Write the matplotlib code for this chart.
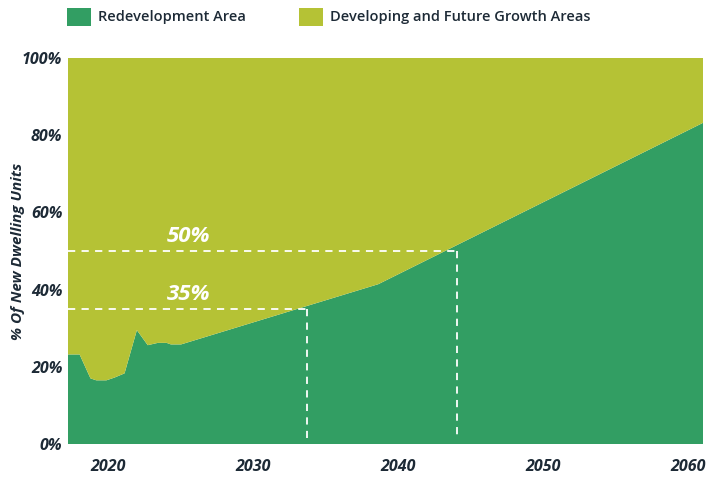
import numpy as np
import matplotlib.pyplot as plt
from matplotlib.patches import Rectangle

# share of new dwelling units in redevelopment areas (%)
years = [2017.2, 2018.0, 2018.75, 2019.15, 2019.85, 2020.4, 2021.1, 2021.95,
         2022.7, 2023.4, 2024.0, 2024.3, 2025.0, 2038.6, 2061.0]
redevelopment = [23.2, 23.2, 17.0, 16.5, 16.5, 17.2, 18.3, 29.5,
                 25.6, 26.2, 26.2, 25.8, 25.8, 41.4, 83.2]
developing = [100 - v for v in redevelopment]

# target years for the 35% and 50% thresholds
target_years = [2033.7, 2044.0]
target_values = [35, 50]

series_names = ["Redevelopment Area", "Developing and Future Growth Areas"]
x_ticks = [2020, 2030, 2040, 2050, 2060]
y_ticks = [0, 20, 40, 60, 80, 100]

GREEN = "#329e63"
LIME = "#b5c235"
DARK = "#1d2a36"

fig = plt.figure(figsize=(7.09, 4.79), dpi=100)
ax = fig.add_axes([68 / 709, 35 / 479, 635 / 709, 386 / 479])

ax.stackplot(years, redevelopment, developing, colors=[GREEN, LIME], linewidth=0)

# dashed guides to each target
for yr, val in zip(target_years, target_values):
    ax.plot([years[0], yr], [val, val], color="white", lw=1.3, ls=(0, (4, 3.5)))
    ax.plot([yr, yr], [val, 1.5], color="white", lw=1.3, ls=(0, (4, 3.5)))
    ax.text(2025.5, val + 1.0, "%d%%" % val, color="white", fontsize=16,
            fontweight="bold", fontstyle="italic", family="Open Sans",
            ha="center", va="bottom")

ax.set_xlim(years[0], 2061.0)
ax.set_ylim(0, 100)
ax.set_xticks(x_ticks)
ax.set_yticks(y_ticks)
ax.set_yticklabels(["%d%%" % v for v in y_ticks])
for s in ax.spines.values():
    s.set_visible(False)
ax.tick_params(axis="both", length=0, colors=DARK)
ax.tick_params(axis="x", pad=11)
ax.tick_params(axis="y", pad=4)
for lab in ax.get_xticklabels() + ax.get_yticklabels():
    lab.set_family("Open Sans")
    lab.set_fontweight("bold")
    lab.set_fontstyle("italic")
    lab.set_fontsize(11.5)

ax.set_ylabel("% Of New Dwelling Units", family="Open Sans", fontweight="bold",
              fontstyle="italic", fontsize=11, color=DARK)
ax.yaxis.set_label_coords(-0.067, 0.5)

# legend across the top
for x0, col, name in [(67, GREEN, series_names[0]), (299, LIME, series_names[1])]:
    fig.add_artist(Rectangle((x0 / 709, 1 - 26 / 479), 24 / 709, 18 / 479,
                             transform=fig.transFigure, color=col, lw=0))
    fig.text((x0 + 31) / 709, 1 - 17 / 479, name, color=DARK, fontsize=10.5,
             family="Open Sans", fontweight="semibold",
             va="center", ha="left")

fig.savefig("out.png", dpi=100)
